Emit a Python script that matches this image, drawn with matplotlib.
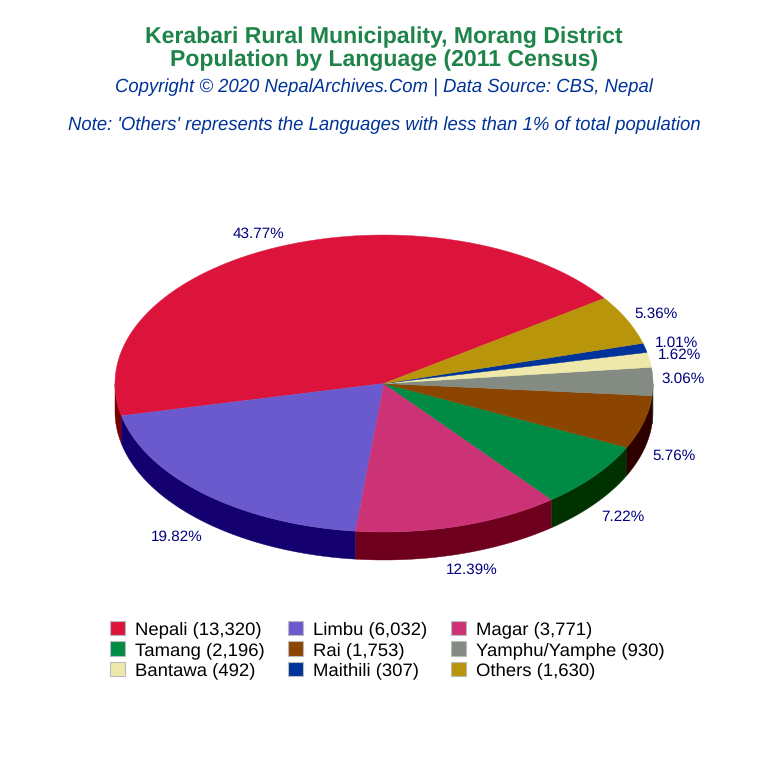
import numpy as np
import matplotlib
matplotlib.use("Agg")
import matplotlib.pyplot as plt
from matplotlib.patches import Polygon, Patch

plt.rcParams['font.family'] = ['Liberation Sans', 'DejaVu Sans']
plt.rcParams['text.hinting'] = 'none'
plt.rcParams['text.hinting_factor'] = 8

languages = ["Nepali", "Limbu", "Magar", "Tamang", "Rai", "Yamphu/Yamphe", "Bantawa", "Maithili", "Others"]
population = [13320, 6032, 3771, 2196, 1753, 930, 492, 307, 1630]
top_colors = ["#DC143C", "#6A5ACD", "#CC3377", "#008B45", "#8B4500", "#838B83", "#EEE8AA", "#003399", "#B8950A"]
wall_colors = ["#7A0000", "#14006E", "#6E001E", "#003200", "#2D0000", "#1C241C", "#7A7440", "#001A4D", "#5C4A00"]
label_offsets = [(-17, -15), (-28, 42), (12, 43), (28, 40), (30, 33), (30, -4), (30, -6), (31, -6), (29, -7)]

CX, CY, RX, RY, DEPTH = 384, 383.5, 269, 148.5, 28
START = 35.0

fig = plt.figure(figsize=(7.68, 7.68), dpi=100, facecolor="white")
ax = fig.add_axes([0, 0, 1, 1])
ax.set_xlim(0, 768)
ax.set_ylim(768, 0)
ax.axis("off")

vals = np.array(population, dtype=float)
total = vals.sum()
spans = vals / total * 360
starts = START + np.concatenate([[0], np.cumsum(spans)[:-1]])


def rim(deg, dy=0.0):
    r = np.radians(deg)
    return CX + RX * np.cos(r), CY - RY * np.sin(r) + dy


# side walls: only the part of each arc on the near half (180..360 deg)
for s, w, c in zip(starts, spans, wall_colors):
    for lo, hi in ((s, s + w), (s - 360, s + w - 360), (s + 360, s + w + 360)):
        a, b = max(lo, 180), min(hi, 360)
        if a < b:
            t = np.linspace(a, b, 100)
            x, y = rim(t)
            xb, yb = rim(t[::-1], DEPTH)
            ax.add_patch(Polygon(np.c_[np.r_[x, xb], np.r_[y, yb]], closed=True,
                                 fc=c, ec=c, lw=0.3, zorder=2))

# top face
for s, w, c in zip(starts, spans, top_colors):
    t = np.linspace(s, s + w, 200)
    x, y = rim(t)
    ax.add_patch(Polygon(np.c_[np.r_[CX, x], np.r_[CY, y]], closed=True,
                         fc=c, ec=c, lw=0.3, zorder=3))

# percentage labels
for s, w, v, off in zip(starts, spans, vals, label_offsets):
    x, y = rim(s + w / 2)
    ax.text(x + off[0], y + off[1] + 1, f"{v / total * 100:.2f}%", color="#000080",
            fontsize=11, ha="center", va="center", zorder=5)

# titles
ax.text(384, 37, "Kerabari Rural Municipality, Morang District", color="#1E8449",
        fontsize=16.57, fontweight="bold", ha="center", va="center")
ax.text(384, 60.5, "Population by Language (2011 Census)", color="#1E8449",
        fontsize=16.57, fontweight="bold", ha="center", va="center")
ax.text(384, 87.5, "Copyright © 2020 NepalArchives.Com | Data Source: CBS, Nepal", color="#003399",
        fontsize=13.37, fontstyle="italic", ha="center", va="center")
ax.text(384, 125, "Note: 'Others' represents the Languages with less than 1% of total population",
        color="#003399", fontsize=13.33, fontstyle="italic", ha="center", va="center")

# legend
handles = [Patch(fc=c, ec="#BBBBBB", lw=0.8, label=f"{n} ({p:,})")
           for n, p, c in zip(languages, population, top_colors)]
# column-first order for a row-wise reading
order = [0, 3, 6, 1, 4, 7, 2, 5, 8]
leg = ax.legend([handles[i] for i in order], [handles[i].get_label() for i in order],
                ncol=3, frameon=False, fontsize=13.3,
                loc="upper left", bbox_to_anchor=(110 / 768, 1 - 620.5 / 768),
                bbox_transform=fig.transFigure, borderpad=0, borderaxespad=0,
                handlelength=0.81, handleheight=0.81, handletextpad=0.54,
                columnspacing=1.27, labelspacing=0.19)

fig.savefig("out.png", dpi=100)
